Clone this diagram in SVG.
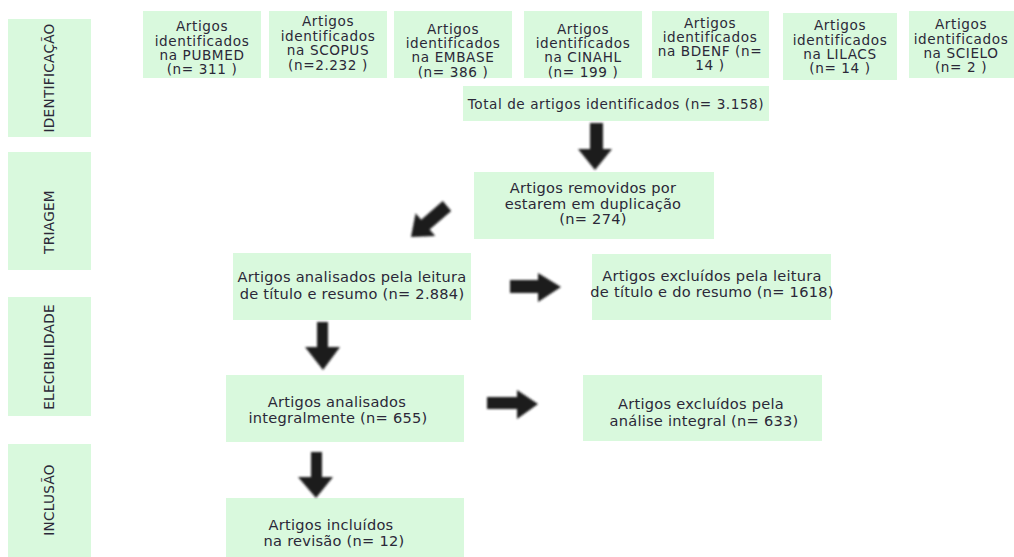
<svg xmlns="http://www.w3.org/2000/svg" width="1014" height="557" viewBox="0 0 1014 557">
<defs>
<style>
.box{fill:#d9f9dd;}
.t{font-family:"DejaVu Sans","Liberation Sans",sans-serif;fill:#2b2838;text-anchor:middle;}
.s{font-size:13.6px;letter-spacing:0.6px;}
.tot{font-size:13.6px;letter-spacing:0.55px;}
.m{font-size:14.6px;letter-spacing:0.25px;}
.lab{font-size:13.6px;letter-spacing:0.3px;}
.arr{fill:#1e1e1e;filter:url(#soft);}
</style>
<filter id="soft" x="-20%" y="-20%" width="140%" height="140%"><feGaussianBlur stdDeviation="0.8"/></filter>
</defs>
<rect width="1014" height="557" fill="#ffffff"/>

<g id="stage-identificacao"><rect class="box" x="8" y="19" width="83" height="118"/><text class="t lab" transform="translate(54,78) rotate(-90)">IDENTIFICAÇÃO</text></g>
<g id="stage-triagem"><rect class="box" x="8" y="152" width="83" height="118"/><text class="t lab" transform="translate(54,222) rotate(-90)">TRIAGEM</text></g>
<g id="stage-elegibilidade"><rect class="box" x="8" y="297" width="83" height="119"/><text class="t lab" transform="translate(54,357) rotate(-90)">ELECIBILIDADE</text></g>
<g id="stage-inclusao"><rect class="box" x="8" y="444" width="83" height="113"/><text class="t lab" transform="translate(54,500) rotate(-90)">INCLUSÃO</text></g>

<g id="pubmed"><rect class="box" x="143" y="11" width="118" height="67"/><text class="t s"><tspan x="202" y="31">Artigos</tspan><tspan x="202" y="45.5">identificados</tspan><tspan x="202" y="59.5">na PUBMED</tspan><tspan x="202" y="74">(n= 311 )</tspan></text></g>
<g id="scopus"><rect class="box" x="269" y="11" width="118" height="67"/><text class="t s"><tspan x="328" y="26">Artigos</tspan><tspan x="328" y="41">identificados</tspan><tspan x="328" y="55">na SCOPUS</tspan><tspan x="328" y="69.5">(n=2.232  )</tspan></text></g>
<g id="embase"><rect class="box" x="394" y="11" width="118" height="67"/><text class="t s"><tspan x="453" y="33.5">Artigos</tspan><tspan x="453" y="48">identificados</tspan><tspan x="453" y="62">na EMBASE</tspan><tspan x="453" y="76.5">(n= 386 )</tspan></text></g>
<g id="cinahl"><rect class="box" x="524" y="11" width="118" height="67"/><text class="t s"><tspan x="583" y="33.5">Artigos</tspan><tspan x="583" y="48">identificados</tspan><tspan x="583" y="62">na CINAHL</tspan><tspan x="583" y="76.5">(n= 199 )</tspan></text></g>
<g id="bdenf"><rect class="box" x="652" y="11" width="117" height="67"/><text class="t s"><tspan x="710" y="27.5">Artigos</tspan><tspan x="710" y="42">identificados</tspan><tspan x="710" y="56">na BDENF (n=</tspan><tspan x="710" y="70">14  )</tspan></text></g>
<g id="lilacs"><rect class="box" x="783" y="13" width="114" height="67"/><text class="t s"><tspan x="840" y="30">Artigos</tspan><tspan x="840" y="44.5">identificados</tspan><tspan x="840" y="58.5">na LILACS</tspan><tspan x="840" y="73">(n= 14 )</tspan></text></g>
<g id="scielo"><rect class="box" x="909" y="11" width="105" height="67"/><text class="t s"><tspan x="961" y="28.5">Artigos</tspan><tspan x="961" y="43.5">identificados</tspan><tspan x="961" y="57.5">na SCIELO</tspan><tspan x="961" y="71.5">(n= 2 )</tspan></text></g>

<g id="total"><rect class="box" x="463" y="86" width="306" height="35"/><text class="t tot" x="616" y="108.5">Total de artigos identificados (n= 3.158)</text></g>
<g id="removidos"><rect class="box" x="474" y="172" width="240" height="67"/><text class="t m"><tspan x="593" y="193">Artigos removidos por</tspan><tspan x="593" y="208.5">estarem em duplicação</tspan><tspan x="593" y="224">(n= 274)</tspan></text></g>
<g id="analisados-leitura"><rect class="box" x="233" y="253" width="238" height="67"/><text class="t m"><tspan x="352" y="282">Artigos analisados pela leitura</tspan><tspan x="352" y="298.5">de  título e resumo (n= 2.884)</tspan></text></g>
<g id="excluidos-leitura"><rect class="box" x="592" y="254" width="239" height="66"/><text class="t m"><tspan x="712" y="280.5">Artigos excluídos pela leitura</tspan><tspan x="712" y="297">de título e do resumo (n= 1618)</tspan></text></g>
<g id="analisados-integral"><rect class="box" x="226" y="375" width="238" height="67"/><text class="t m"><tspan x="337" y="407">Artigos analisados</tspan><tspan x="338" y="423">integralmente (n= 655)</tspan></text></g>
<g id="excluidos-integral"><rect class="box" x="583" y="375" width="239" height="66"/><text class="t m"><tspan x="701" y="409">Artigos excluídos pela</tspan><tspan x="704" y="425.5">análise integral (n= 633)</tspan></text></g>
<g id="incluidos"><rect class="box" x="226" y="498" width="238" height="59"/><text class="t m"><tspan x="331" y="530">Artigos incluídos</tspan><tspan x="334" y="546">na revisão (n= 12)</tspan></text></g>

<g id="connectors">
<path class="arr" d="M590,123 L603,123 L603,149 L612,149 L595,170 L578,149 L590,149 Z"/>
<path class="arr" d="M442.8,201.1 L451.2,210.9 L429.6,229.5 L435.2,236 L411,237 L415.6,213.2 L421.2,219.7 Z"/>
<path class="arr" d="M510,280 L538,280 L538,273 L561,287 L538,302 L538,293 L510,293 Z"/>
<path class="arr" d="M317,322 L328,322 L328,347 L340,347 L323,370 L305,347 L317,347 Z"/>
<path class="arr" d="M487,397 L517,397 L517,390 L538,404 L517,419 L517,409 L487,409 Z"/>
<path class="arr" d="M311,452 L322,452 L322,477 L333,477 L316,498 L298,477 L311,477 Z"/>
</g>
</svg>
